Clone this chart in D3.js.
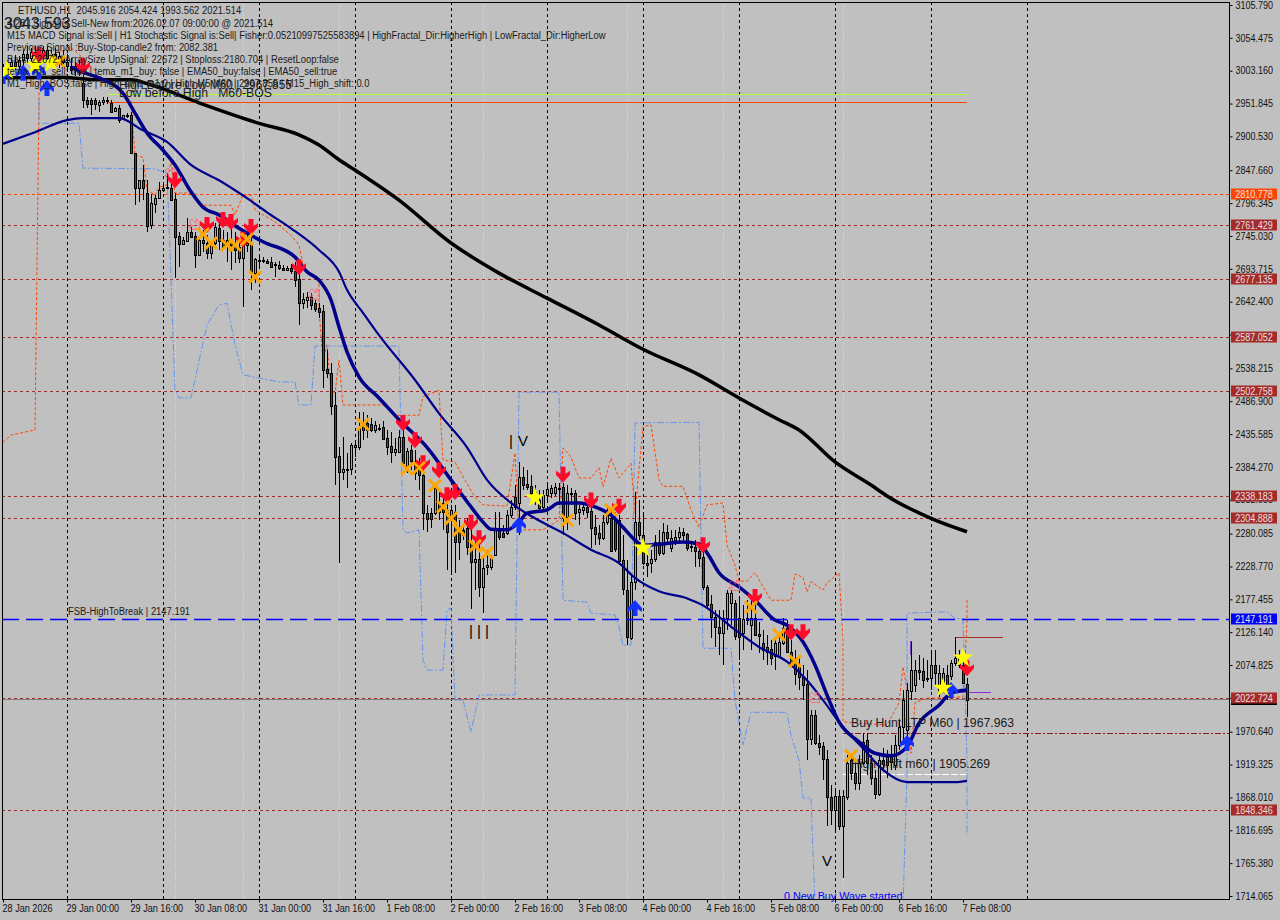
<!DOCTYPE html>
<html>
<head>
<meta charset="utf-8">
<script src="https://cdn.jsdelivr.net/npm/d3@7/dist/d3.min.js"></script>
<style>
html, body { margin: 0; padding: 0; background: #c0c0c0; }
svg { display: block; }
text { font-family: "Liberation Sans", sans-serif; }
</style>
</head>
<body>
<div id="chart"></div>
<script>
// candles, one value per H1 bar
var opens = [3001,3007,3010,3017,3010,3020,3029,3023,3032,3020,
3026,3035,3023,3029,3020,3026,3017,3010,3004,3010,
2984,2957,2957,2957,2950,2954,2957,2953,2940,2945,
2929,2932,2934,2875,2820,2832,2812,2761,2795,2804,
2817,2820,2820,2803,2745,2732,2737,2751,2745,2715,
2739,2734,2718,2734,2757,2739,2729,2739,2731,2728,
2711,2731,2734,2687,2706,2706,2706,2704,2700,2700,
2695,2692,2695,2690,2678,2640,2645,2650,2640,2633,
2628,2537,2531,2481,2401,2376,2379,2381,2415,2415,
2453,2453,2451,2442,2445,2447,2429,2417,2408,2408,
2431,2384,2411,2394,2387,2372,2312,2312,2312,2328,
2328,2317,2301,2314,2289,2286,2289,2265,2236,2240,
2197,2228,2228,2247,2289,2281,2281,2309,2337,2328,
2369,2358,2354,2345,2333,2322,2340,2343,2343,2351,
2353,2306,2342,2343,2315,2317,2322,2315,2290,2281,
2273,2298,2304,2303,2301,2239,2192,2117,2204,2298,
2278,2234,2233,2240,2267,2250,2283,2258,2270,2275,
2283,2280,2261,2259,2253,2244,2197,2170,2150,2134,
2125,2148,2172,2172,2148,2125,2145,2137,2148,2123,
2109,2103,2100,2089,2089,2109,2133,2095,2080,2072,
2056,2045,1959,1997,1953,1948,1928,1869,1848,1870,
1823,1869,1926,1906,1891,1922,1958,1922,1898,1873,
1926,1919,1931,1919,1950,1978,1973,2034,2044,2067,
2065,2055,2055,2075,2031,2047,2059,2058,2078,2086,
2075,2045.916]
var highs = [3014,3020,3023,3028,3026,3035,3042,3039,3042,3035,
3042,3042,3035,3039,3032,3035,3029,3023,3017,3020,
2996,2962,2961,2961,2957,2962,2962,2957,2946,2950,
2934,2937,2939,2875,2832,2856,2832,2810,2809,2829,
2828,2843,2829,2812,2751,2743,2773,2759,2751,2742,
2754,2747,2736,2765,2765,2754,2751,2757,2751,2742,
2747,2747,2742,2711,2712,2712,2709,2712,2704,2706,
2700,2698,2701,2704,2692,2656,2657,2656,2645,2640,
2637,2567,2547,2501,2415,2431,2406,2422,2426,2470,
2470,2465,2461,2456,2451,2456,2442,2439,2429,2442,
2450,2414,2418,2411,2398,2379,2325,2320,2356,2348,
2340,2328,2325,2325,2301,2294,2305,2294,2270,2262,
2247,2255,2247,2314,2314,2294,2317,2333,2356,2392,
2384,2379,2372,2356,2348,2348,2356,2356,2359,2359,
2359,2356,2351,2348,2325,2328,2333,2325,2309,2294,
2309,2325,2317,2314,2309,2278,2239,2215,2345,2333,
2309,2247,2255,2278,2286,2297,2294,2286,2286,2290,
2289,2281,2265,2270,2262,2255,2200,2184,2161,2161,
2161,2192,2192,2176,2179,2169,2176,2184,2176,2142,
2129,2122,2114,2114,2122,2148,2145,2114,2098,2090,
2075,2067,2004,2004,1965,1955,1942,1887,1880,1880,
1880,1934,1934,1926,1934,1969,1969,1934,1911,1934,
1945,1942,1950,1965,1989,2036,2047,2111,2083,2090,
2086,2083,2095,2098,2075,2070,2075,2083,2119,2098,
2090,2054.424]
var lows = [2992,2998,3001,3004,3001,3011,3017,3014,3017,3007,
3017,3020,3011,3017,3007,3014,3001,2998,2995,2995,
2945,2945,2934,2942,2939,2950,2951,2939,2939,2921,
2926,2929,2875,2793,2798,2801,2751,2756,2781,2804,
2814,2818,2801,2679,2696,2731,2736,2742,2695,2714,
2720,2709,2709,2731,2723,2723,2704,2692,2703,2703,
2634,2720,2661,2672,2697,2703,2701,2695,2681,2692,
2692,2690,2686,2665,2606,2631,2633,2629,2626,2617,
2507,2523,2465,2356,2234,2364,2351,2372,2400,2411,
2426,2429,2439,2437,2440,2428,2403,2390,2401,2406,
2390,2375,2379,2364,2348,2286,2283,2289,2309,2301,
2286,2223,2215,2219,2239,2270,2247,2162,2192,2181,
2156,2215,2223,2245,2270,2273,2278,2304,2317,2278,
2348,2348,2340,2325,2317,2314,2332,2336,2339,2325,
2278,2286,2325,2301,2294,2309,2304,2258,2262,2262,
2270,2294,2251,2251,2231,2184,2106,2114,2192,2270,
2231,2212,2219,2236,2245,2247,2262,2251,2262,2267,
2270,2253,2251,2228,2228,2192,2164,2117,2103,2090,
2075,2129,2137,2114,2083,2098,2137,2098,2122,2094,
2083,2075,2075,2067,2086,2106,2095,2075,2044,2036,
2020,1926,1950,1950,1934,1895,1823,1825,1814,1817,
1742,1864,1895,1880,1880,1919,1903,1887,1866,1870,
1908,1898,1911,1911,1942,1950,1961,2020,2033,2051,
2039,2048,2036,2044,2025,2036,2020,2051,2073,2070,
2045,1993.562]
var closes = [3007,3010,3017,3010,3020,3029,3023,3032,3020,3026,
3035,3023,3029,3020,3026,3017,3010,3004,3010,3001,
2957,2950,2950,2950,2954,2957,2956,2939,2945,2926,
2934,2934,2875,2820,2832,2820,2761,2796,2804,2817,
2820,2821,2801,2743,2732,2739,2751,2743,2715,2739,
2734,2718,2732,2759,2736,2726,2739,2731,2723,2711,
2731,2734,2687,2709,2707,2707,2703,2696,2701,2695,
2692,2695,2690,2676,2640,2647,2650,2637,2631,2626,
2536,2531,2479,2400,2376,2381,2381,2418,2418,2445,
2442,2442,2442,2450,2443,2429,2415,2408,2412,2431,
2390,2409,2394,2375,2372,2312,2303,2303,2351,2314,
2314,2283,2317,2267,2267,2278,2259,2236,2240,2197,
2226,2231,2244,2286,2275,2275,2309,2322,2322,2369,
2356,2354,2343,2337,2320,2340,2350,2351,2353,2350,
2304,2343,2343,2312,2319,2322,2314,2289,2279,2273,
2298,2309,2253,2256,2237,2194,2119,2204,2298,2278,
2234,2231,2240,2267,2250,2283,2273,2273,2275,2283,
2278,2258,2259,2253,2242,2197,2169,2150,2134,2125,
2148,2187,2187,2120,2119,2147,2148,2148,2122,2120,
2098,2095,2086,2109,2111,2133,2095,2075,2062,2056,
2044,1959,1997,1953,1947,1928,1869,1848,1870,1823,
1870,1922,1906,1891,1922,1955,1922,1898,1873,1926,
1919,1931,1923,1950,1978,2020,2036,2067,2067,2064,
2051,2055,2075,2062,2062,2062,2040,2078,2086,2075,
2047,2021.514]

// moving averages and bands: bar number, price
var slowBars = [0,14,24,32,37,49,64,74,79,84,88,99,112,124,136,149,160,174,184,194,199,208,217,221,232,241]
var slowVals = [2992,2993,2989,2989,2981,2953,2921,2903,2887,2864,2848,2801,2734,2687,2648,2606,2568,2528,2492,2458,2442,2392,2356,2339,2304,2283]
var fastBars = [17,19,24,30,33,36,40,43,47,50,54,59,65,73,76,79,82,84,86,89,94,99,106,112,117,120,122,126,129,131,136,139,144,148,152,155,158,160,165,170,174,176,179,184,188,193,196,200,203,206,209,214,218,222,226,229,234,237,241]
var fastVals = [3009,3003,2992,2968,2937,2906,2879,2856,2814,2790,2778,2757,2736,2712,2689,2676,2645,2603,2564,2525,2492,2458,2415,2364,2322,2298,2287,2286,2298,2312,2317,2328,2328,2322,2309,2290,2270,2262,2264,2267,2264,2250,2219,2197,2176,2145,2137,2111,2075,2028,1986,1955,1937,1933,1947,1984,2012,2031,2036]
var midBars = [0,8,16,20,29,35,41,47,54,61,66,72,79,84,86,90,94,103,109,116,121,127,133,140,147,154,158,164,171,175,179,183,189,196,201,205,210,215,220,226,238,241]
var midVals = [2889,2907,2926,2929,2929,2910,2892,2856,2832,2804,2782,2757,2723,2689,2661,2625,2590,2520,2468,2415,2364,2328,2304,2281,2255,2234,2211,2190,2179,2168,2150,2130,2103,2080,2051,2020,1978,1945,1911,1892,1892,1894]
var upperBars = [0,2,8,9,9,17,20,24,32,33,35,36,38,39,41,42,43,47,50,57,58,60,62,63,65,68,72,74,75,77,79,79,80,81,82,83,84,85,96,98,104,105,109,110,113,115,118,120,126,128,129,135,139,140,142,144,147,149,150,152,154,157,158,160,162,164,165,170,172,174,176,180,181,183,184,186,188,192,197,198,200,201,202,205,206,209,210,210,221,224,225,226,227,228,231,240,241,241]
var upperVals = [2423,2434,2442,2957,3020,3039,3023,2996,2957,2871,2868,2817,2809,2821,2825,2864,2812,2812,2793,2793,2778,2809,2809,2786,2778,2767,2746,2731,2700,2684,2673,2629,2551,2575,2504,2500,2551,2481,2481,2465,2465,2494,2504,2395,2392,2369,2337,2325,2323,2406,2286,2286,2301,2414,2400,2367,2367,2383,2353,2398,2367,2390,2312,2447,2450,2364,2354,2354,2317,2290,2325,2328,2262,2231,2206,2206,2219,2176,2176,2217,2212,2189,2205,2192,2203,2219,2114,1986,1981,2016,2072,2036,1937,2016,2023,2025,2140,2180]
var lowerBars = [9,9,19,20,38,41,42,43,44,47,51,54,56,58,60,69,73,74,77,78,99,100,101,104,105,106,110,111,112,113,115,117,119,128,129,139,140,146,147,153,154,155,157,158,174,175,182,183,185,187,196,197,199,200,202,203,225,226,226,236,238,240,241,241]
var lowerVals = [2957,2921,2921,2851,2850,2843,2681,2504,2492,2492,2606,2637,2640,2575,2528,2517,2517,2481,2481,2573,2573,2286,2281,2286,2083,2067,2067,2161,2164,2020,2020,1970,2028,2028,2501,2501,2176,2173,2156,2153,2134,2106,2106,2453,2454,2101,2101,2020,1950,2001,2001,1965,1926,1867,1867,1698,1698,1906,2156,2158,2148,2147,1931,1809]

// signal markers: bar number, price
var sellBars = [9,20,43,51,55,57,60,62,74,100,103,105,109,111,113,117,119,140,147,154,175,188,197,200,241]
var sellVals = [3028,3010,2832,2762,2770,2767,2739,2759,2696,2453,2426,2390,2379,2340,2345,2297,2273,2372,2332,2322,2262,2181,2126,2126,2070]
var crossBars = [14,50,52,56,58,61,63,90,101,104,108,110,112,114,118,121,141,152,187,194,198,212]
var crossVals = [3017,2748,2734,2731,2731,2740,2681,2451,2381,2383,2355,2322,2304,2286,2261,2250,2301,2317,2165,2122,2081,1933]
var starBars = [1,8,12,133,160,235,240]
var starVals = [3004,3012,3015,2336,2258,2039,2086]
var buyBars = [0,5,9,11,129,158,226,237]
var buyVals = [2995,3000,3002,2976,2294,2164,1953,2036]
var hollowBars = [42,48,78,183,203]
var hollowVals = [2842,2762,2653,2198,2023]

// levels
var brownLevels = [2761.429, 2677.135, 2587.052, 2502.758, 2338.183, 2304.888, 2022.724, 1848.346]
var orangeLevel = 2810.778
var blueLevel = 2147.191
var bidLevel = 2021.514
var greenLine = 2966, redLine = 2954
var tpLevel = 1967.963, shiftLevel = 1905.269
var highStub = 2119, purpleStub = 2033

// grid and tick labels
var gridBars = [16,40,64,88,112,136,160,184,208,232,256]
var sepBars = [43,60,84,120,156,180,210]
var priceTicks = [3105.79,3054.475,3003.16,2951.845,2900.53,2847.66,2796.345,2745.03,2693.715,2642.4,2591.085,2538.215,2486.9,2435.585,2384.27,2332.955,2280.085,2228.77,2177.455,2126.14,2074.825,2023.51,1970.64,1919.325,1868.01,1816.695,1765.38,1714.065]
var hiddenTicks = [2591.085, 2023.51] // covered by the price tags in the picture
var timeLabels = ["28 Jan 2026","29 Jan 00:00","29 Jan 16:00","30 Jan 08:00","31 Jan 00:00","31 Jan 16:00","1 Feb 08:00","2 Feb 00:00","2 Feb 16:00","3 Feb 08:00","4 Feb 00:00","4 Feb 16:00","5 Feb 08:00","6 Feb 00:00","6 Feb 16:00","7 Feb 08:00"]
var infoLines = [
  "4:28 | Signal is Sell-New from:2026.02.07 09:00:00 @ 2021.514",
  "M15 MACD Signal is:Sell | H1 Stochastic Signal is:Sell| Fisher:0.05210997525583894 | HighFractal_Dir:HigherHigh | LowFractal_Dir:HigherLow",
  "Previous Signal :Buy-Stop-candle2 from: 2082.381",
  "Bars: 22672 | ArraySize UpSignal: 22672 | Stoploss:2180.704 | ResetLoop:false",
  "tema_m1_sell: true | tema_m1_buy: false | EMA50_buy:false | EMA50_sell:true",
  "M1_High_BOS:false | High_shift_m1:0 | High M5 M60 | 2967.855 | M15_High_shift: 0.0"
]

var width = 1280, height = 920
var left = 2, top_ = 2, right = 1229, bottom = 899

var svg = d3.select("#chart")
    .append("svg")
    .attr("width", width)
    .attr("height", height)

// 4 px per bar
var x = d3.scaleLinear().domain([0, 256]).range([3, 1027])
var y = d3.scaleLinear().domain([1714.065, 3105.79]).range([896, 5])

var clip = svg.append("defs").append("clipPath").attr("id", "plot")
clip.append("rect").attr("x", left).attr("y", top_).attr("width", right - left).attr("height", bottom - top_)
var plot = svg.append("g").attr("clip-path", "url(#plot)")

function zipped(bars, vals) {
  return bars.map(function(b, i) { return {bar: b, val: vals[i]} })
}

// the terminal font runs narrower than Liberation Sans
function squeeze(sel, f) {
  sel.each(function() {
    var n = this.getComputedTextLength()
    d3.select(this).attr("textLength", n * f).attr("lengthAdjust", "spacingAndGlyphs")
  })
  return sel
}

// vertical separators
plot.selectAll("line.sep").data(sepBars).enter().append("line")
    .attr("x1", function(d) { return x(d) + 0.5 }).attr("x2", function(d) { return x(d) + 0.5 })
    .attr("y1", top_).attr("y2", bottom)
    .attr("stroke", "#add8e6").attr("stroke-dasharray", "8,2")
plot.selectAll("line.grid").data(gridBars).enter().append("line")
    .attr("x1", function(d) { return x(d) + 0.5 }).attr("x2", function(d) { return x(d) + 0.5 })
    .attr("y1", top_).attr("y2", bottom)
    .attr("stroke", "#000").attr("stroke-dasharray", "3,3")

// horizontal levels
function hline(price, x1, x2, color, dash, w) {
  plot.append("line")
      .attr("x1", x1).attr("x2", x2)
      .attr("y1", Math.round(y(price)) + 0.5).attr("y2", Math.round(y(price)) + 0.5)
      .attr("stroke", color).attr("stroke-width", w || 1)
      .attr("stroke-dasharray", dash)
}
hline(bidLevel, left, right, "#808080", null)
brownLevels.forEach(function(p) { hline(p, left, right, "#a52a2a", "3,3") })
hline(orangeLevel, left, right, "#ff4500", "3,3")
hline(greenLine, x(26), x(241), "#adff2f", null, 1.2)
hline(redLine, x(26), x(241), "#ff4500", null, 1.2)
hline(tpLevel, x(210), right, "#8b1a1a", "6,2,2,2")
hline(shiftLevel, x(210), x(241), "#ffffff", "7,2")
hline(highStub, x(238), x(250), "#a52a2a", null)
hline(purpleStub, x(235), x(247), "#8a2be2", null)

var lineGen = d3.line()
    .x(function(d) { return x(d.bar) })
    .y(function(d) { return y(d.val) })
var curveGen = d3.line()
    .curve(d3.curveMonotoneX)
    .x(function(d) { return x(d.bar) })
    .y(function(d) { return y(d.val) })

// bands
plot.append("path").datum(zipped(upperBars, upperVals))
    .attr("d", lineGen).attr("fill", "none")
    .attr("stroke", "#ff4500").attr("stroke-dasharray", "3,2")
plot.append("path").datum(zipped(lowerBars, lowerVals))
    .attr("d", lineGen).attr("fill", "none")
    .attr("stroke", "#6495ed").attr("stroke-dasharray", "7,2,2,2")

// candles
var bars = d3.range(opens.length)
var candle = plot.append("g").selectAll("g").data(bars).enter().append("g")
candle.append("line")
    .attr("x1", function(i) { return x(i) + 0.5 }).attr("x2", function(i) { return x(i) + 0.5 })
    .attr("y1", function(i) { return Math.round(y(highs[i])) })
    .attr("y2", function(i) { return Math.round(y(lows[i])) })
    .attr("stroke", "#000")
candle.append("rect")
    .attr("x", function(i) { return x(i) - 0.5 })
    .attr("width", 2)
    .attr("y", function(i) { return Math.round(y(Math.max(opens[i], closes[i]))) + 0.5 })
    .attr("height", function(i) { return Math.max(1, Math.round(Math.abs(y(opens[i]) - y(closes[i])))) })
    .attr("fill", function(i) { return closes[i] >= opens[i] ? "#33e09a" : "#c0143c" })
    .attr("stroke", "#000")
    .attr("shape-rendering", "crispEdges")

// blue break level sits over the candles
hline(blueLevel, left, right, "#0000ff", "17,7", 1.6)

// moving averages
plot.append("path").datum(zipped(slowBars, slowVals))
    .attr("d", curveGen).attr("fill", "none")
    .attr("stroke", "#000").attr("stroke-width", 3.5)
plot.append("path").datum(zipped(midBars, midVals))
    .attr("d", curveGen).attr("fill", "none")
    .attr("stroke", "#00008b").attr("stroke-width", 2.2)
plot.append("path").datum(zipped(fastBars, fastVals))
    .attr("d", curveGen).attr("fill", "none")
    .attr("stroke", "#00008b").attr("stroke-width", 3.5)

// markers
var arrowDown = "M-2.5,-8H2.5V-1L7,-4V0L0,8L-7,0V-4L-2.5,-1Z"
var arrowUp = "M-2.5,8H2.5V1L7,4V0L0,-8L-7,0V4L-2.5,1Z"
function at(d) { return "translate(" + x(d.bar) + "," + y(d.val) + ")" }

plot.selectAll("path.hollow").data(zipped(hollowBars, hollowVals)).enter().append("path")
    .attr("d", arrowDown)
    .attr("transform", function(d) { return at(d) + " rotate(-45) scale(0.8)" })
    .attr("fill", "none").attr("stroke", "#ff5a6e")
plot.selectAll("path.sell").data(zipped(sellBars, sellVals)).enter().append("path")
    .attr("d", arrowDown).attr("transform", at).attr("fill", "#ff0a28")
plot.selectAll("path.buy").data(zipped(buyBars, buyVals)).enter().append("path")
    .attr("d", arrowUp).attr("transform", at).attr("fill", "#1432ff")
var crossG = plot.selectAll("g.cross").data(zipped(crossBars, crossVals)).enter().append("g")
    .attr("transform", at)
crossG.append("path")
    .attr("d", "M-6,-6L6,6M6,-6L-6,6")
    .attr("stroke", "#ffa500").attr("stroke-width", 3).attr("fill", "none")
plot.selectAll("path.star").data(zipped(starBars, starVals)).enter().append("path")
    .attr("d", d3.symbol().type(d3.symbolStar).size(125))
    .attr("transform", at).attr("fill", "#ffff00")

// text on the chart
var texts = svg.append("g").attr("fill", "#1a1a1a")
function label(txt, px, py, size, color) {
  var t = texts.append("text").attr("x", px).attr("y", py)
      .attr("font-size", size).attr("xml:space", "preserve").text(txt)
  if (color) t.attr("fill", color)
  return squeeze(t, 0.94)
}
label("ETHUSD,H1  2045.916 2054.424 1993.562 2021.514", 18, 14, 10)
label("3043.593", 4, 29, 17)
infoLines.forEach(function(t, i) { label(t, 7, 27 + i * 12, 10) })
label("High Before Low M60 | 2967.855", 119, 89, 12.6)
label("Low before High   M60-BOS", 119, 97, 13)
label("FSB-HighToBreak | 2147.191", 68, 615, 10)
label("Buy Hunt LTP M60 | 1967.963", 851, 727, 13)
label("High shift m60 | 1905.269", 851, 768, 13)
label("0 New Buy Wave started", 784, 900, 11.5, "#0000ff")

var glyphs = [["|", 127, 2417], ["V", 130, 2417], ["|", 117, 2120], ["|", 119, 2120], ["|", 121, 2120], ["V", 206, 1761]]
glyphs.forEach(function(g) {
  texts.append("text").attr("x", x(g[1])).attr("y", y(g[2]))
      .attr("font-size", 15).attr("fill", "#000").attr("text-anchor", "middle").text(g[0])
})
texts.append("text").attr("x", x(227)).attr("y", y(2095))
    .attr("font-size", 15).attr("fill", "#0000cd").attr("text-anchor", "middle").text("|")

// frame and axes
svg.append("rect").attr("x", left + 0.5).attr("y", top_ + 0.5)
    .attr("width", right - left).attr("height", bottom - top_)
    .attr("fill", "none").attr("stroke", "#000")

var yAxis = d3.axisRight(y)
    .tickValues(priceTicks)
    .tickFormat(function(d) { return hiddenTicks.indexOf(d) >= 0 ? "" : d3.format(".3f")(d) })
    .tickSize(3).tickPadding(3)
var xAxis = d3.axisBottom(x)
    .tickValues(timeLabels.map(function(d, i) { return i * 16 }))
    .tickFormat(function(d, i) { return timeLabels[i] })
    .tickSize(3).tickPadding(2)

var yG = svg.append("g").attr("transform", "translate(" + (right + 0.5) + ",0)").call(yAxis)
yG.select(".domain").remove()
var yText = yG.selectAll("text").attr("font-size", 10).attr("font-family", "Liberation Sans").attr("fill", "#111")
yText.filter(function() { return this.textContent !== "" }).call(squeeze, 0.9)
var xG = svg.append("g").attr("transform", "translate(0," + (bottom + 0.5) + ")").call(xAxis)
xG.select(".domain").remove()
xG.selectAll("text").attr("font-size", 10).attr("font-family", "Liberation Sans").attr("fill", "#111")
    .attr("text-anchor", "start").attr("dx", -1).call(squeeze, 0.91)

// price tags on the right, the bid tag only shows as a black edge under 2022.724
svg.append("rect").attr("x", 1231).attr("y", Math.round(y(brownLevels[6])) + 5)
    .attr("width", 46).attr("height", 2).attr("fill", "#000")
var tagVals = brownLevels.concat([orangeLevel, blueLevel])
var tags = svg.append("g").selectAll("g").data(tagVals).enter().append("g")
    .attr("transform", function(d) { return "translate(1231," + Math.round(y(d)) + ")" })
tags.append("rect").attr("x", 0).attr("y", -5.5).attr("width", 46).attr("height", 11)
    .attr("fill", function(d) { return d === blueLevel ? "#0000ff" : d === orangeLevel ? "#ff4500" : "#a52a2a" })
tags.append("text").attr("x", 23).attr("y", 4).attr("text-anchor", "middle")
    .attr("font-size", 10).attr("fill", "#e8e0e0")
    .text(function(d) { return d3.format(".3f")(d) })
    .call(squeeze, 0.9)
</script>
</body>
</html>
